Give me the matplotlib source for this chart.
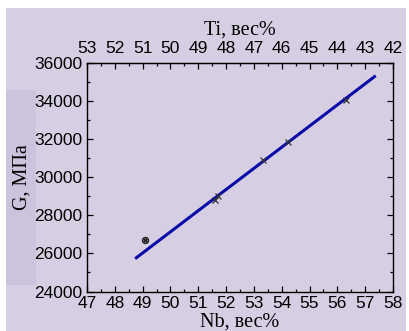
import numpy as np
import matplotlib.pyplot as plt
from matplotlib.patches import Rectangle
from matplotlib.ticker import MultipleLocator

# measured points (Nb, wt% ; G, MPa)
nb_outlier = [49.07]
g_outlier = [26690]
nb_pts = [51.6, 51.7, 53.34, 54.24, 56.3]
g_pts = [28806, 29000, 30906, 31852, 34058]

# linear fit end points
nb_fit = [48.73, 57.38]
g_fit = [25723, 35334]

bg = '#d6cfe3'
strip = '#cdc3dc'

fig = plt.figure(figsize=(4.1, 3.31), dpi=100)
fig.patch.set_facecolor('white')
fig.patches.append(Rectangle((6/410, 0), 1 - 10/410, 1 - 8/331, transform=fig.transFigure,
                             facecolor=bg, edgecolor='none', zorder=-2))
fig.patches.append(Rectangle((6/410, 1 - 285/331), 30/410, 195/331, transform=fig.transFigure,
                             facecolor=strip, edgecolor='none', zorder=-1))

ax = fig.add_axes([87/410, 1 - 291.5/331, 306/410, 228.5/331])
ax.set_facecolor('none')

ax.plot(nb_fit, g_fit, color='#0a0aa8', lw=2.2, solid_capstyle='butt', zorder=2)
ax.plot(nb_outlier, g_outlier, ls='none', marker='o', ms=4.5, mfc='#666666',
        mec='#222222', mew=0.8, zorder=3)
ax.plot(nb_outlier, g_outlier, ls='none', marker='x', ms=3.5, mec='#111111', mew=0.7, zorder=4)
ax.plot(nb_pts, g_pts, ls='none', marker='x', ms=5, mec='#333333', mew=0.9, zorder=3)

ax.set_xlim(47, 58)
ax.set_ylim(24000, 36000)
ax.xaxis.set_major_locator(MultipleLocator(1))
ax.xaxis.set_minor_locator(MultipleLocator(0.5))
ax.yaxis.set_major_locator(MultipleLocator(2000))
ax.yaxis.set_minor_locator(MultipleLocator(1000))

lab_font = {'family': 'Liberation Serif', 'size': 14.5}

ax.tick_params(which='both', direction='in', top=False, right=True, width=0.9,
               labelsize=12.5, pad=3.5)
ax.tick_params(which='major', length=4)
ax.tick_params(which='minor', length=2.5)
for lb in ax.get_xticklabels() + ax.get_yticklabels():
    lb.set_fontfamily('Liberation Sans')

sec = ax.secondary_xaxis('top', functions=(lambda x: 100 - x, lambda x: 100 - x))
sec.xaxis.set_major_locator(MultipleLocator(1))
sec.xaxis.set_minor_locator(MultipleLocator(0.5))
sec.tick_params(which='both', direction='in', width=0.9, labelsize=12.5, pad=5)
sec.tick_params(which='major', length=4)
sec.tick_params(which='minor', length=2.5)
for lb in sec.get_xticklabels():
    lb.set_fontfamily('Liberation Sans')

for s in ax.spines.values():
    s.set_linewidth(1.0)

ax.set_xlabel('Nb, вес%', fontdict=lab_font, labelpad=0.5)
ax.set_ylabel('G, МПа', fontdict=lab_font, labelpad=2)
sec.set_xlabel('Ti, вес%', fontdict=lab_font, labelpad=5)

fig.savefig('out.png', dpi=100)
